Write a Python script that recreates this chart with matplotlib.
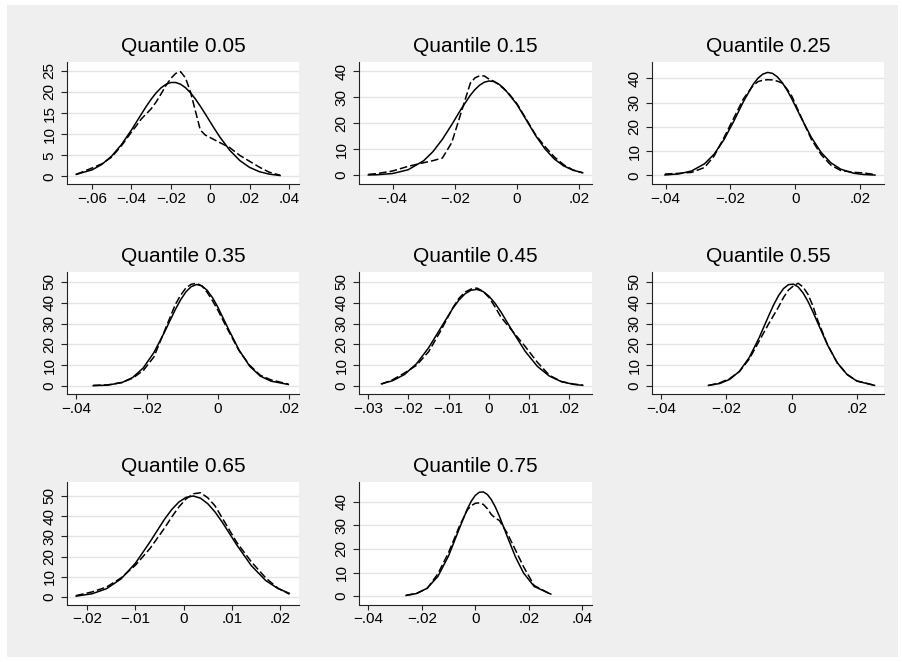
"""
Kernel density vs normal density of residuals, by quantile
"""

import matplotlib.pyplot as plt
from matplotlib.patches import Rectangle

plt.rcParams['font.family'] = ['Liberation Sans', 'DejaVu Sans']

titles = ["Quantile 0.05", "Quantile 0.15", "Quantile 0.25", "Quantile 0.35",
          "Quantile 0.45", "Quantile 0.55", "Quantile 0.65", "Quantile 0.75"]

# ---- values: x grid, normal density (solid), kernel density (dashed)
x_05 = [-0.068, -0.06, -0.055, -0.05, -0.045, -0.04, -0.0375, -0.035, -0.0325, -0.03,
        -0.0275, -0.025, -0.0225, -0.02, -0.0175, -0.015, -0.0125, -0.01, -0.0075, -0.005,
        -0.0025, 0, 0.0025, 0.005, 0.01, 0.015, 0.02, 0.025, 0.03, 0.0355]
norm_05 = [0.50, 1.56, 2.85, 4.83, 7.58, 10.98, 12.85, 14.72, 16.57, 18.27,
           19.76, 20.96, 21.80, 22.24, 22.25, 21.83, 21.0, 19.82, 18.34, 16.64,
           14.81, 12.92, 11.06, 9.28, 6.17, 3.79, 2.15, 1.13, 0.55, 0.23]
kern_05 = [0.5, 2.0, 3.0, 4.6, 7.3, 10.5, 12.0, 13.6, 14.8, 16.0,
           17.6, 19.5, 21.5, 23.2, 24.4, 24.8, 23.3, 20.0, 15.5, 11.0,
           9.8, 9.2, 8.6, 8.0, 6.8, 5.0, 3.6, 2.2, 1.0, 0.3]

x_15 = [-0.0478, -0.045, -0.04, -0.035, -0.03, -0.027, -0.024, -0.021, -0.018, -0.015,
        -0.0135, -0.012, -0.0105, -0.009, -0.0075, -0.006, -0.0045, -0.003, 0, 0.003,
        0.006, 0.009, 0.012, 0.015, 0.018, 0.0211]
norm_15 = [0.07, 0.16, 0.63, 2.08, 5.57, 9.10, 13.80, 19.43, 25.40, 30.81,
           33.0, 34.70, 35.82, 36.29, 36.08, 35.22, 33.75, 31.74, 27.2, 21.2,
           15.2, 10.1, 6.2, 3.56, 1.91, 0.92]
kern_15 = [0.3, 0.6, 1.6, 3.4, 4.8, 5.6, 6.6, 12.5, 24.0, 35.5,
           37.5, 38.3, 38.2, 37.0, 36.2, 35.0, 33.5, 32.0, 27.5, 21.5,
           15.5, 11.0, 7.0, 4.0, 2.0, 0.9]

x_25 = [-0.0402, -0.036, -0.032, -0.028, -0.025, -0.022, -0.019, -0.016, -0.013, -0.0115,
        -0.010, -0.0085, -0.007, -0.0055, -0.004, -0.0025, -0.001, 0.002, 0.005, 0.008,
        0.011, 0.014, 0.018, 0.021, 0.0246]
norm_25 = [0.13, 0.55, 1.77, 4.72, 8.75, 14.66, 22.17, 30.32, 37.42, 40.01,
           41.71, 42.4, 42.0, 40.56, 38.19, 35.05, 31.36, 23.26, 15.58, 9.43,
           5.15, 2.54, 0.85, 0.33, 0.09]
kern_25 = [0.5, 0.8, 1.2, 3.2, 8.0, 15.5, 23.5, 31.5, 37.0, 38.6,
           39.2, 39.4, 39.3, 38.8, 38.0, 35.5, 32.5, 23.5, 14.8, 8.5,
           4.2, 2.0, 1.2, 1.0, 0.3]

x_35 = [-0.0351, -0.031, -0.027, -0.024, -0.021, -0.018, -0.015, -0.012, -0.0105, -0.009,
        -0.0075, -0.006, -0.0045, -0.003, -0.0015, 0, 0.003, 0.006, 0.009, 0.012,
        0.015, 0.0199]
norm_35 = [0.2, 0.5, 1.72, 4.15, 8.74, 16.10, 25.95, 36.59, 41.32, 45.13,
           47.66, 48.7, 48.09, 45.94, 42.44, 37.93, 27.38, 17.30, 9.55, 4.8,
           2.4, 0.8]
kern_35 = [0.4, 0.6, 1.8, 3.8, 7.5, 14.0, 26.5, 39.0, 43.5, 47.0,
           48.8, 49.3, 48.0, 45.0, 41.0, 36.5, 26.5, 17.0, 10.0, 5.2,
           3.0, 1.0]

x_45 = [-0.0267, -0.024, -0.021, -0.018, -0.015, -0.012, -0.009, -0.0075, -0.006, -0.0045,
        -0.003, -0.0015, 0, 0.0015, 0.003, 0.006, 0.009, 0.012, 0.015, 0.018,
        0.021, 0.0233]
norm_45 = [1.15, 2.56, 5.58, 10.76, 18.40, 27.82, 37.25, 41.18, 44.17, 45.95,
           46.37, 45.39, 43.11, 39.71, 35.48, 25.86, 16.69, 9.53, 4.82, 2.16,
           0.86, 0.39]
kern_45 = [1.0, 3.0, 6.3, 10.0, 16.5, 26.5, 37.5, 42.0, 45.0, 46.5,
           47.0, 45.5, 42.5, 38.0, 33.0, 26.0, 19.0, 11.5, 5.2, 2.2,
           1.0, 0.5]

x_55 = [-0.0255, -0.022, -0.019, -0.016, -0.013, -0.010, -0.007, -0.0055, -0.004, -0.0025,
        -0.001, 0.0005, 0.002, 0.0035, 0.005, 0.0065, 0.008, 0.011, 0.014, 0.017,
        0.020, 0.0254]
norm_55 = [0.37, 1.28, 3.24, 7.13, 13.73, 23.08, 33.88, 39.02, 43.44, 46.75,
           48.63, 48.9, 47.54, 44.68, 40.60, 35.65, 30.27, 19.71, 11.21, 5.56,
           2.41, 0.38]
kern_55 = [0.3, 1.6, 3.6, 7.0, 13.0, 21.5, 30.0, 34.0, 38.0, 42.5,
           46.0, 48.0, 49.3, 47.5, 44.0, 38.5, 31.5, 19.8, 11.0, 5.6,
           2.5, 0.4]

x_65 = [-0.0223, -0.019, -0.016, -0.013, -0.010, -0.007, -0.004, -0.0025, -0.001, 0.0005,
        0.002, 0.0035, 0.005, 0.0065, 0.008, 0.011, 0.014, 0.017, 0.0195, 0.0219]
norm_65 = [0.53, 1.70, 4.20, 9.02, 16.81, 27.25, 38.37, 43.19, 46.94, 49.25,
           49.9, 48.79, 46.06, 41.99, 36.96, 25.76, 15.6, 8.21, 4.32, 1.9]
kern_65 = [0.8, 2.6, 5.0, 9.5, 15.8, 24.0, 34.0, 39.5, 44.5, 48.5,
           51.0, 51.5, 49.0, 45.0, 39.0, 27.0, 17.5, 9.5, 4.5, 1.5]

x_75 = [-0.0259, -0.022, -0.018, -0.014, -0.010, -0.006, -0.003, -0.0015, 0, 0.0015,
        0.003, 0.0045, 0.006, 0.0075, 0.009, 0.012, 0.015, 0.018, 0.022, 0.0282]
norm_75 = [0.32, 1.12, 3.39, 8.40, 17.11, 28.59, 36.92, 40.24, 42.66, 43.98,
           44.1, 43.01, 40.80, 37.65, 33.78, 25.02, 16.59, 9.84, 4.12, 0.9]
kern_75 = [0.4, 1.2, 3.3, 9.5, 18.5, 29.5, 36.5, 38.3, 39.3, 39.5,
           38.8, 37.0, 34.5, 33.0, 32.0, 26.5, 19.5, 12.5, 4.5, 0.8]

# axis ticks per panel
xticks = [[-0.06, -0.04, -0.02, 0, 0.02, 0.04],
          [-0.04, -0.02, 0, 0.02],
          [-0.04, -0.02, 0, 0.02],
          [-0.04, -0.02, 0, 0.02],
          [-0.03, -0.02, -0.01, 0, 0.01, 0.02],
          [-0.04, -0.02, 0, 0.02],
          [-0.02, -0.01, 0, 0.01, 0.02],
          [-0.04, -0.02, 0, 0.02, 0.04]]
yticks = [[0, 5, 10, 15, 20, 25],
          [0, 10, 20, 30, 40],
          [0, 10, 20, 30, 40],
          [0, 10, 20, 30, 40, 50],
          [0, 10, 20, 30, 40, 50],
          [0, 10, 20, 30, 40, 50],
          [0, 10, 20, 30, 40, 50],
          [0, 10, 20, 30, 40]]
xlims = [(-0.0727, 0.0451), (-0.0508, 0.0241), (-0.0442, 0.0274), (-0.0425, 0.0229),
         (-0.0323, 0.0256), (-0.0428, 0.0283), (-0.0242, 0.0239), (-0.0435, 0.0436)]
ylims = [(-1.9, 27.1), (-3.6, 43.6), (-3.8, 46.7), (-4.0, 54.7),
         (-4.0, 54.7), (-4.0, 54.7), (-3.6, 56.8), (-3.5, 48.3)]

panels = [(x_05, norm_05, kern_05), (x_15, norm_15, kern_15), (x_25, norm_25, kern_25),
          (x_35, norm_35, kern_35), (x_45, norm_45, kern_45), (x_55, norm_55, kern_55),
          (x_65, norm_65, kern_65), (x_75, norm_75, kern_75)]


def stata_fmt(v):
    if abs(v) < 1e-12:
        return "0"
    s = f"{abs(v):.2f}".rstrip('0').lstrip('0')
    return ("\u2212" if v < 0 else "") + s


W, H = 902, 662
fig = plt.figure(figsize=(W / 100, H / 100), dpi=100)
fig.patch.set_facecolor('white')
fig.patches.append(Rectangle((7 / W, 1 - 657 / H), 891 / W, 652 / H,
                             transform=fig.transFigure, facecolor='#efefef',
                             edgecolor='none', zorder=-10))

cols = [(67, 299), (359, 592), (652, 884)]
rows = [(62, 184.5), (272, 394.5), (482, 604.5)]

for i, (xv, nv, kv) in enumerate(panels):
    c0, c1 = cols[i % 3]
    r0, r1 = rows[i // 3]
    ax = fig.add_axes([c0 / W, 1 - r1 / H, (c1 - c0) / W, (r1 - r0) / H])
    ax.set_facecolor('white')
    for yt in yticks[i]:
        ax.axhline(yt, color='#e4e4e4', lw=1.0, zorder=0)
    ax.plot(xv, nv, color='black', lw=1.1, solid_joinstyle='round', zorder=3)
    ax.plot(xv, kv, color='black', lw=1.1, dashes=(5, 2), zorder=3)
    ax.set_xlim(*xlims[i])
    ax.set_ylim(*ylims[i])
    ax.set_xticks(xticks[i])
    ax.set_xticklabels([stata_fmt(t) for t in xticks[i]])
    ax.set_yticks(yticks[i])
    ax.set_yticklabels([str(t) for t in yticks[i]], rotation=90, va='center')
    ax.tick_params(length=3.5, width=0.8, color='#222222', labelsize=11, pad=2)
    ax.tick_params(axis='y', length=4.5, pad=3)
    for s in ['top', 'right']:
        ax.spines[s].set_visible(False)
    for s in ['left', 'bottom']:
        ax.spines[s].set_color('#222222')
        ax.spines[s].set_linewidth(0.8)
    ax.set_title(titles[i], fontsize=15, pad=7)

plt.savefig("out.png", dpi=100)
